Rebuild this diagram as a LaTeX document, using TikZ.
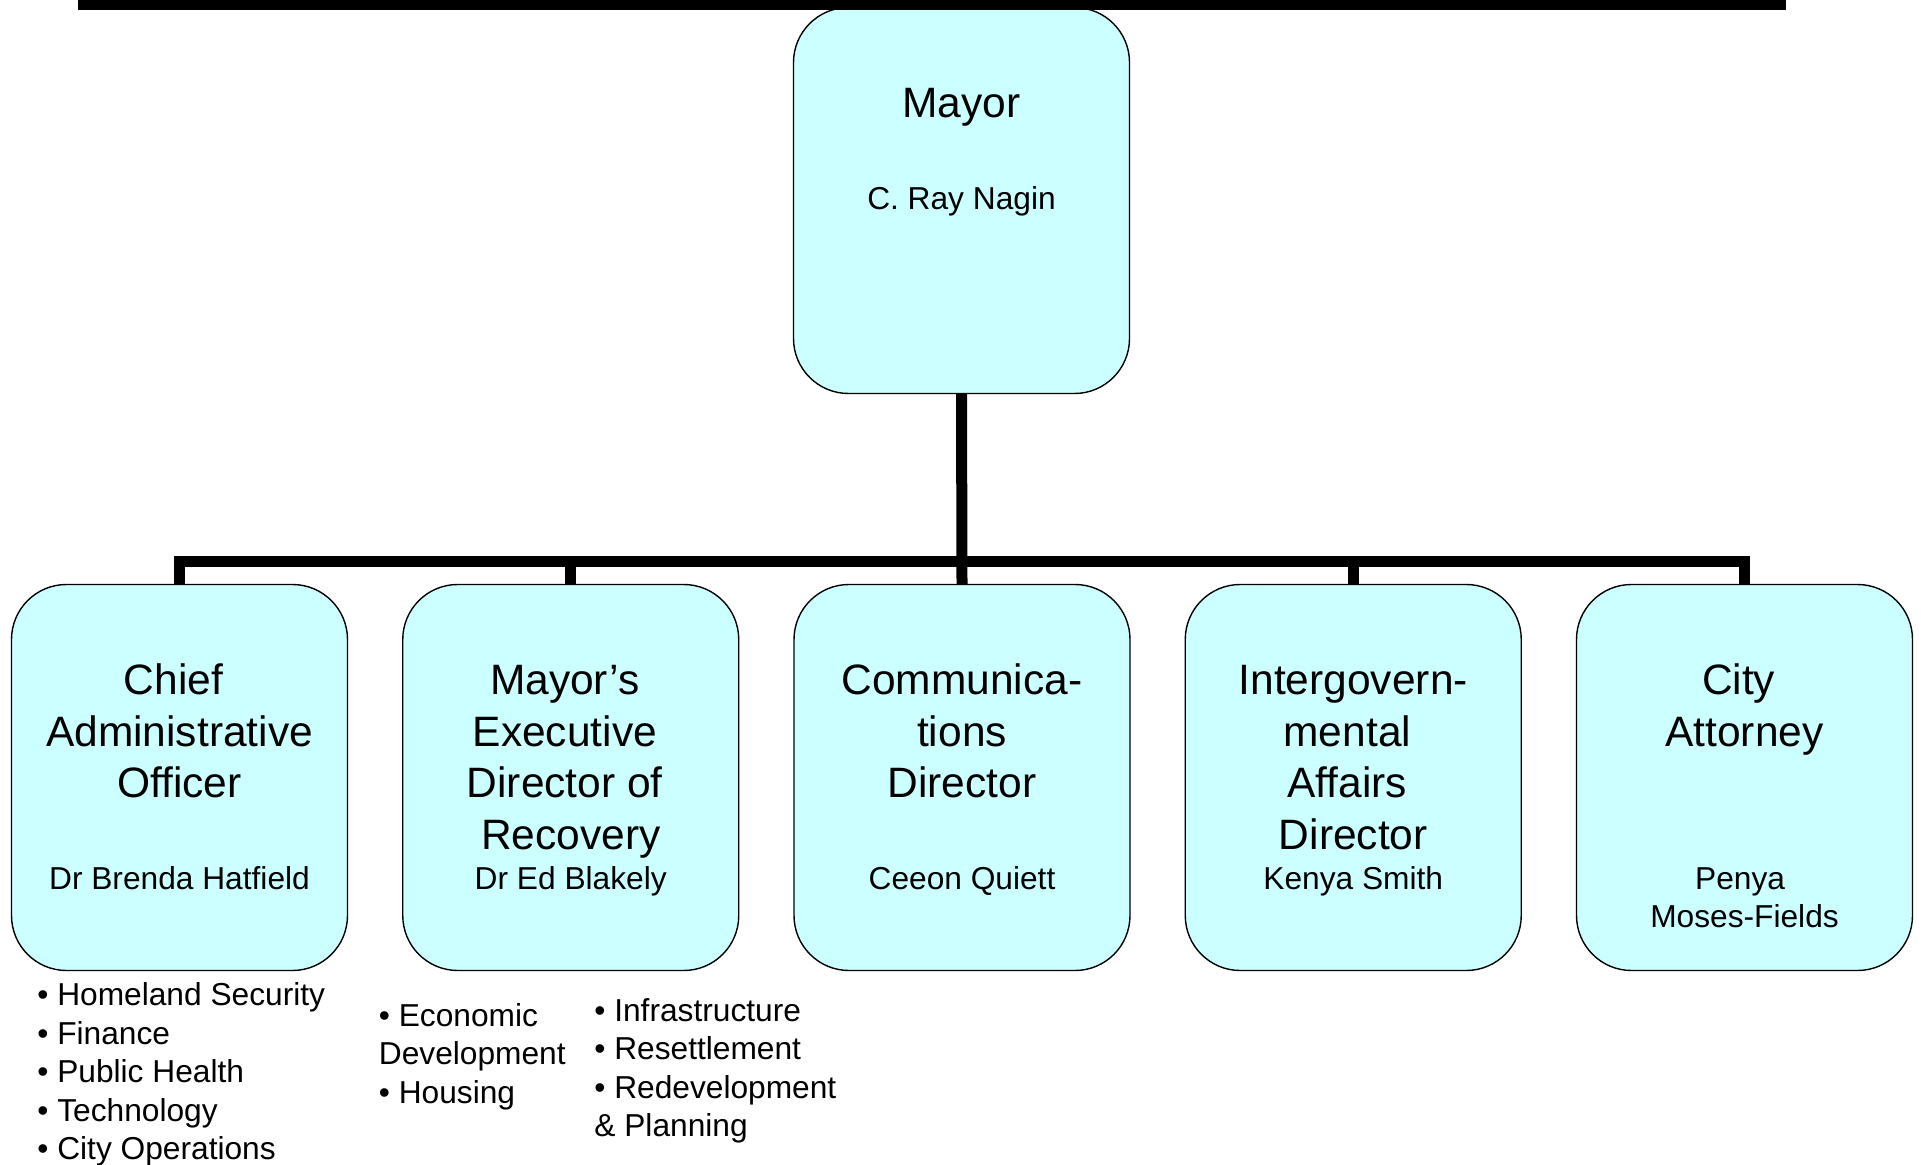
\documentclass[tikz,border=0pt]{standalone}
\usepackage{fontspec}
\setmainfont{Liberation Sans}
\usetikzlibrary{calc}
\definecolor{boxcyan}{RGB}{204,255,255}
\newcommand{\tstrut}{\rule{0pt}{20pt}}
\newcommand{\nstrut}{\rule{0pt}{15pt}}
\newcommand{\trsp}{\hskip0.278em\hbox{}}

\begin{document}
\begin{tikzpicture}[x=0.5pt,y=-0.5pt,
    orgbox/.style={draw=black, line width=0.7pt, fill=boxcyan, rounded corners=27.5pt,
        minimum width=168pt, minimum height=193pt, inner sep=0pt},
    titletext/.style={anchor=north, align=center, inner sep=0pt,
        font={\fontsize{21.25pt}{25.85pt}\selectfont}},
    nametext/.style={anchor=north, align=center, inner sep=0pt,
        font={\fontsize{15.85pt}{19pt}\selectfont}},
    listtext/.style={anchor=north west, align=left, inner sep=0pt,
        font={\fontsize{15.85pt}{19.25pt}\selectfont}},
    orgline/.style={line width=5.5pt, black}]
    \useasboundingbox (0,0) rectangle (1921,1165);

    % Mayor
    \node[orgbox] (mayor) at (961.5,200.5) {};
    \node[titletext] (mayortitle) at (961.5,76.7) {\tstrut Mayor};
    \node[nametext] (mayorname) at (961.5,179) {\nstrut C. Ray Nagin};

    % Top bar
    \fill[black] (78,0) rectangle (1786,10);

    % Direct reports
    \node[orgbox] (cao) at (179.5,777.5) {};
    \node[orgbox] (med) at (570.75,777.5) {};
    \node[orgbox] (comm) at (962,777.5) {};
    \node[orgbox] (iga) at (1353.25,777.5) {};
    \node[orgbox] (att) at (1744.5,777.5) {};

    % Connectors
    \coordinate (bus) at (962,561.5);
    \draw[orgline] (mayor.south) -- (comm.north);
    \draw[orgline] (cao.north) |- (bus) -| (att.north);
    \draw[orgline] (med.north) -- (med.north |- bus);
    \draw[orgline] (iga.north) -- (iga.north |- bus);

    % Titles
    \node[titletext] (caotitle) at (179.5,654) {\tstrut Chief\trsp\\Administrative\\Officer};
    \node[titletext] (medtitle) at (570.75,654) {\tstrut Mayor’s\trsp\\Executive\trsp\\Director of\trsp\\Recovery};
    \node[titletext] (commtitle) at (962,654) {\tstrut Communica-\\tions\\Director};
    \node[titletext] (igatitle) at (1353.25,654) {\tstrut Intergovern-\\mental\trsp\\Affairs\trsp\\Director};
    \node[titletext] (atttitle) at (1744.5,654) {\tstrut City\trsp\\Attorney};

    % Names
    \node[nametext] (caoname) at (179.5,859) {\nstrut Dr Brenda Hatfield};
    \node[nametext] (medname) at (570.75,859) {\nstrut Dr Ed Blakely};
    \node[nametext] (commname) at (962,859) {\nstrut Ceeon Quiett};
    \node[nametext] (iganame) at (1353.25,859) {\nstrut Kenya Smith};
    \node[nametext] (attname) at (1744.5,859) {\nstrut Penya\trsp\\Moses-Fields};

    % Departments
    \node[listtext] (caolist) at (37,975.5) {\nstrut • Homeland Security\\• Finance\\• Public Health\\• Technology\\• City Operations};
    \node[listtext] (medlistA) at (378.5,996) {\nstrut • Economic\\Development\\• Housing};
    \node[listtext] (medlistB) at (594,991) {\nstrut • Infrastructure\\• Resettlement\\• Redevelopment\\\& Planning};
\end{tikzpicture}
\end{document}
